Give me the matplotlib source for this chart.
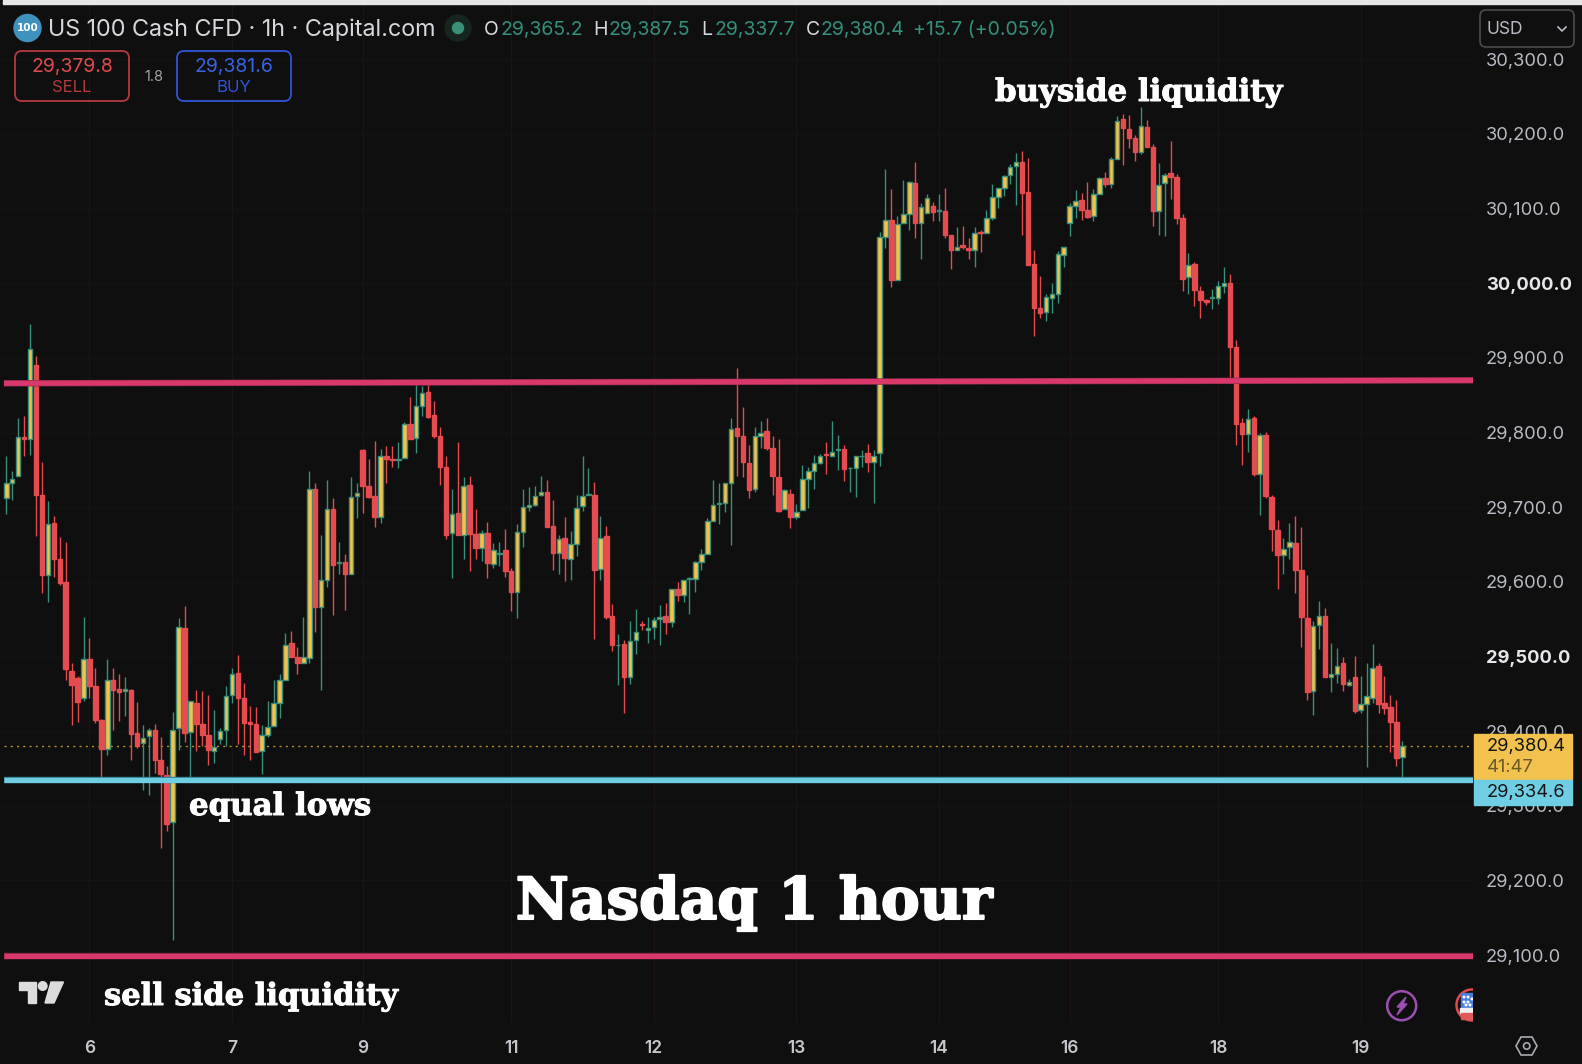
#!/usr/bin/env python3

import matplotlib
matplotlib.use("Agg")
import matplotlib.patheffects as pe
import matplotlib.pyplot as plt
from matplotlib.patches import Circle, FancyBboxPatch, Polygon, Rectangle

OUTPUT_PATH = "out.png"

BG = "#0f0f0f"
UP_EDGE = "#3a8f7a"
UP_FILL = "#f2c14e"
DOWN = "#e54b4f"
PINK = "#d8386a"
CYAN = "#6fcde4"
AXIS_TEXT = "#b8bbc2"

opens = [29713, 29732, 29742, 29794, 29792, 29891, 29716, 29609, 29679, 29631, 29600, 29481,
         29471, 29444, 29497, 29460, 29415, 29376, 29469, 29456, 29454, 29455, 29397, 29384,
         29393, 29402, 29362, 29341, 29278, 29404, 29538, 29399, 29438, 29409, 29395, 29374,
         29389, 29402, 29448, 29478, 29445, 29412, 29409, 29374, 29395, 29407, 29438, 29469,
         29518, 29500, 29492, 29498, 29724, 29567, 29603, 29697, 29625, 29627, 29611, 29715,
         29777, 29728, 29715, 29687, 29768, 29765, 29763, 29766, 29812, 29793, 29835, 29854,
         29823, 29796, 29754, 29665, 29692, 29663, 29730, 29664, 29645, 29666, 29624, 29637,
         29643, 29615, 29587, 29667, 29700, 29703, 29716, 29721, 29675, 29639, 29659, 29631,
         29651, 29702, 29716, 29716, 29617, 29662, 29554, 29515, 29517, 29473, 29522, 29544,
         29536, 29540, 29550, 29554, 29546, 29590, 29583, 29604, 29604, 29627, 29638, 29682,
         29704, 29706, 29733, 29806, 29795, 29759, 29724, 29796, 29802, 29780, 29741, 29698,
         29718, 29687, 29696, 29738, 29748, 29759, 29771, 29769, 29776, 29778, 29752, 29753,
         29768, 29772, 29760, 29772, 30062, 30085, 30005, 30081, 30093, 30134, 30081, 30094,
         30104, 30097, 30097, 30064, 30045, 30051, 30047, 30044, 30069, 30067, 30088, 30116,
         30127, 30145, 30157, 30162, 30122, 30026, 29967, 29961, 29980, 29986, 30038, 30081,
         30103, 30112, 30098, 30090, 30120, 30141, 30133, 30167, 30220, 30207, 30194, 30176,
         30210, 30182, 30097, 30134, 30148, 30142, 30088, 30008, 30026, 29990, 29978, 29980,
         29980, 29996, 30001, 29914, 29813, 29798, 29819, 29745, 29797, 29714, 29670, 29636,
         29647, 29652, 29616, 29551, 29454, 29542, 29554, 29472, 29476, 29491, 29462, 29473,
         29428, 29436, 29444, 29487, 29438, 29432, 29412, 29365.2]
highs = [29769, 29748, 29819, 29822, 29946, 29902, 29760, 29709, 29688, 29660, 29653, 29491,
         29474, 29553, 29525, 29485, 29416, 29497, 29485, 29477, 29473, 29457, 29439, 29408,
         29404, 29410, 29392, 29353, 29426, 29552, 29568, 29441, 29455, 29454, 29448, 29428,
         29404, 29461, 29484, 29502, 29465, 29434, 29433, 29408, 29441, 29468, 29477, 29532,
         29534, 29513, 29553, 29748, 29732, 29663, 29737, 29713, 29653, 29638, 29740, 29732,
         29778, 29764, 29789, 29778, 29782, 29782, 29788, 29814, 29847, 29868, 29863, 29868,
         29842, 29808, 29769, 29724, 29787, 29740, 29742, 29697, 29669, 29680, 29652, 29653,
         29671, 29618, 29678, 29724, 29727, 29728, 29742, 29736, 29710, 29663, 29687, 29668,
         29716, 29769, 29753, 29734, 29688, 29675, 29571, 29530, 29522, 29547, 29564, 29547,
         29553, 29553, 29569, 29572, 29590, 29600, 29603, 29607, 29628, 29644, 29686, 29737,
         29732, 29733, 29820, 29887, 29834, 29783, 29807, 29815, 29819, 29796, 29792, 29724,
         29724, 29704, 29756, 29754, 29770, 29771, 29787, 29815, 29797, 29783, 29754, 29769,
         29777, 29785, 29777, 30069, 30153, 30126, 30090, 30138, 30137, 30163, 30107, 30120,
         30109, 30119, 30127, 30065, 30076, 30077, 30061, 30076, 30071, 30098, 30133, 30128,
         30145, 30160, 30174, 30177, 30168, 30044, 30010, 29985, 30001, 30043, 30048, 30108,
         30125, 30121, 30135, 30126, 30142, 30149, 30169, 30224, 30227, 30225, 30199, 30236,
         30219, 30186, 30161, 30148, 30190, 30146, 30093, 30041, 30029, 29997, 29979, 29992,
         30003, 30022, 30012, 29924, 29820, 29832, 29822, 29799, 29801, 29716, 29683, 29659,
         29679, 29688, 29673, 29609, 29547, 29574, 29565, 29518, 29511, 29500, 29470, 29501,
         29474, 29492, 29517, 29491, 29474, 29449, 29442, 29387.5]
lows = [29691, 29710, 29742, 29768, 29770, 29662, 29585, 29573, 29607, 29596, 29469, 29408,
        29412, 29440, 29444, 29411, 29332, 29368, 29401, 29414, 29420, 29362, 29378, 29321,
        29314, 29344, 29243, 29266, 29120, 29375, 29385, 29333, 29374, 29380, 29355, 29357,
        29383, 29380, 29438, 29383, 29368, 29362, 29372, 29343, 29392, 29407, 29417, 29469,
        29500, 29476, 29492, 29491, 29533, 29455, 29593, 29556, 29610, 29563, 29610, 29686,
        29692, 29712, 29674, 29679, 29733, 29754, 29752, 29766, 29792, 29772, 29822, 29820,
        29793, 29730, 29657, 29605, 29663, 29630, 29615, 29631, 29628, 29605, 29619, 29621,
        29607, 29561, 29552, 29647, 29695, 29701, 29715, 29673, 29616, 29611, 29601, 29602,
        29635, 29695, 29716, 29524, 29602, 29550, 29507, 29462, 29424, 29463, 29503, 29536,
        29518, 29523, 29516, 29530, 29540, 29574, 29573, 29557, 29587, 29616, 29638, 29682,
        29678, 29694, 29649, 29742, 29740, 29712, 29721, 29780, 29777, 29716, 29694, 29697,
        29672, 29684, 29696, 29699, 29724, 29758, 29744, 29768, 29750, 29735, 29720, 29714,
        29754, 29747, 29705, 29755, 30047, 29995, 30004, 30081, 30072, 30061, 30033, 30094,
        30083, 30084, 30060, 30019, 30044, 30046, 30032, 30022, 30042, 30067, 30085, 30101,
        30117, 30133, 30105, 30065, 30025, 29929, 29953, 29949, 29960, 29974, 30022, 30063,
        30087, 30085, 30087, 30084, 30119, 30129, 30127, 30166, 30158, 30181, 30164, 30173,
        30183, 30077, 30064, 30063, 30113, 30080, 29990, 29986, 29969, 29953, 29971, 29965,
        29972, 29987, 29875, 29783, 29757, 29774, 29742, 29690, 29713, 29641, 29591, 29610,
        29631, 29585, 29513, 29442, 29422, 29510, 29472, 29453, 29465, 29454, 29461, 29424,
        29425, 29352, 29438, 29424, 29423, 29372, 29354, 29337.7]
closes = [29732, 29738, 29794, 29792, 29912, 29717, 29609, 29678, 29631, 29599, 29483, 29462,
          29439, 29497, 29460, 29415, 29376, 29469, 29455, 29452, 29456, 29396, 29380, 29391,
          29402, 29361, 29342, 29276, 29402, 29539, 29397, 29440, 29409, 29395, 29375, 29379,
          29400, 29447, 29477, 29445, 29411, 29409, 29372, 29395, 29406, 29438, 29468, 29516,
          29500, 29492, 29499, 29724, 29566, 29603, 29697, 29623, 29626, 29610, 29714, 29719,
          29728, 29714, 29687, 29768, 29764, 29763, 29765, 29812, 29792, 29835, 29853, 29821,
          29796, 29754, 29663, 29691, 29663, 29729, 29664, 29645, 29666, 29625, 29643, 29639,
          29615, 29587, 29667, 29700, 29703, 29715, 29721, 29674, 29639, 29658, 29632, 29651,
          29699, 29715, 29718, 29616, 29659, 29553, 29515, 29516, 29473, 29521, 29533, 29542,
          29538, 29549, 29553, 29546, 29590, 29583, 29602, 29605, 29627, 29638, 29681, 29703,
          29706, 29732, 29805, 29795, 29760, 29723, 29795, 29800, 29780, 29742, 29695, 29723,
          29687, 29694, 29738, 29748, 29759, 29769, 29770, 29774, 29778, 29751, 29753, 29768,
          29769, 29760, 29769, 30062, 30085, 30004, 30080, 30093, 30136, 30081, 30102, 30114,
          30096, 30098, 30065, 30045, 30049, 30049, 30044, 30068, 30067, 30088, 30115, 30127,
          30144, 30156, 30162, 30121, 30025, 29967, 29960, 29981, 29986, 30039, 30048, 30103,
          30110, 30098, 30089, 30119, 30141, 30133, 30167, 30218, 30208, 30194, 30176, 30211,
          30183, 30097, 30131, 30145, 30143, 30088, 30006, 30025, 29991, 29977, 29975, 29982,
          29997, 30000, 29914, 29812, 29798, 29818, 29745, 29797, 29715, 29671, 29636, 29644,
          29653, 29616, 29553, 29453, 29541, 29554, 29472, 29476, 29487, 29463, 29466, 29427,
          29436, 29447, 29484, 29437, 29431, 29412, 29364, 29380.4]

price_ticks = [30300, 30200, 30100, 30000, 29900, 29800, 29700, 29600, 29500, 29400, 29300, 29200, 29100]
strong_ticks = [30000, 29500]
day_positions = [14, 38, 60, 85, 109, 133, 157, 179, 204, 228]
day_labels = ["6", "7", "9", "11", "12", "13", "14", "16", "18", "19"]

resistance_ends = [29866, 29870]
equal_lows_level = 29334.6
sell_side_level = 29099
sell_quote = "29,379.8"
buy_quote = "29,381.6"
ohlc_labels = ["O", "H", "L", "C"]
ohlc_values = ["29,365.2", "29,387.5", "29,337.7", "29,380.4"]


def line_with_edge(ax, xs, ys, color, edge):
    ax.plot(xs, ys, color=edge, linewidth=4.6, solid_capstyle="butt", zorder=5)
    ax.plot(xs, ys, color=color, linewidth=3.7, solid_capstyle="butt", zorder=5)


def draw_candles(ax):
    indices = range(len(closes))
    up = [c >= o for o, c in zip(opens, closes)]
    wick_colors = [UP_EDGE if u else DOWN for u in up]
    ax.vlines(indices, lows, highs, colors=wick_colors, linewidth=1.0, zorder=3)
    bottoms = [min(o, c) for o, c in zip(opens, closes)]
    heights = [abs(c - o) for o, c in zip(opens, closes)]
    ax.bar(
        indices,
        heights,
        bottom=bottoms,
        width=0.76,
        color=[UP_FILL if u else DOWN for u in up],
        edgecolor=[UP_EDGE if u else DOWN for u in up],
        linewidth=1.0,
        zorder=4,
    )


def draw_chrome(ui):
    # px coordinates, y pointing down
    ui.add_patch(Rectangle((3, 0), 1579, 3.5, color="#e6e6e6"))

    ui.add_patch(Circle((27.5, 28), 13.5, color="#3f92bd"))
    ui.text(27.5, 28, "100", color="white", fontsize=7.5, fontweight="bold", ha="center", va="center")
    ui.text(48, 29.5, "US 100 Cash CFD · 1h · Capital.com", color="#d6d8dd", fontsize=16.8,
            family="Inter", va="center")
    ui.add_patch(Circle((458, 28), 13, color="#16261f"))
    ui.add_patch(Circle((458, 28), 5.5, color="#3a8f78"))

    label_x = [484, 593, 701, 806]
    value_x = [501, 608, 714, 821]
    for lab, val, lx, vx in zip(ohlc_labels, ohlc_values, label_x, value_x):
        ui.text(lx, 30, lab, color="#d6d8dd", fontsize=14, family="Inter", va="center")
        ui.text(vx, 30, val, color="#34907c", fontsize=14, family="Inter", va="center")
    ui.text(913, 30, "+15.7 (+0.05%)", color="#34907c", fontsize=14, family="Inter", va="center")

    ui.add_patch(FancyBboxPatch((15, 51), 114, 50, boxstyle="round,pad=0,rounding_size=7",
                                fc="none", ec="#b53a3e", lw=1.3))
    ui.text(72, 67, sell_quote, color="#df4a4e", fontsize=14, family="Inter", ha="center", va="center")
    ui.text(72, 88, "SELL", color="#b53a3e", fontsize=12, family="Inter", ha="center", va="center")
    ui.text(153.5, 77, "1.8", color="#a0a3a8", fontsize=10.5, family="Inter", ha="center", va="center")
    ui.add_patch(FancyBboxPatch((177, 51), 114, 50, boxstyle="round,pad=0,rounding_size=7",
                                fc="none", ec="#2f55d4", lw=1.3))
    ui.text(234, 67, buy_quote, color="#3a63e0", fontsize=14, family="Inter", ha="center", va="center")
    ui.text(234, 88, "BUY", color="#2f55d4", fontsize=12, family="Inter", ha="center", va="center")

    ui.add_patch(FancyBboxPatch((1480, 10), 94, 37, boxstyle="round,pad=0,rounding_size=6",
                                fc=BG, ec="#4a4c50", lw=1.2))
    ui.text(1487, 29, "USD", color="#b8bbc2", fontsize=12.5, family="Inter", va="center")
    ui.plot([1558, 1562, 1566], [27, 31, 27], color="#b8bbc2", lw=1.2)

    # right scale badges
    ui.add_patch(Rectangle((1474, 734), 98, 46, color=UP_FILL, zorder=6))
    ui.add_patch(Rectangle((1474, 780), 98, 25, color=CYAN, zorder=6))
    ui.text(1487, 747, "29,380.4", color="#151515", fontsize=13.2, family="Inter", va="center", zorder=7)
    ui.text(1487, 767, "41:47", color="#6a5a28", fontsize=13.2, family="Inter", va="center", zorder=7)
    ui.text(1487, 793, "29,334.6", color="#151515", fontsize=13.2, family="Inter", va="center", zorder=7)

    # tradingview logo
    logo = "#dcdcdc"
    ui.add_patch(Polygon([(19, 982), (36, 982), (36, 1003), (28, 1003), (28, 990), (19, 990)], color=logo))
    ui.add_patch(Circle((42.7, 986), 4.3, color=logo))
    ui.add_patch(Polygon([(51, 982), (63.5, 982), (54, 1003), (45, 1003)], color=logo))

    # bolt button
    ui.add_patch(Circle((1401.7, 1005.7), 14.5, fc="none", ec="#9c4fb0", lw=1.8))
    ui.add_patch(Polygon([(1406, 997), (1397, 1007), (1401, 1007), (1397, 1015), (1407, 1004), (1403, 1004)],
                         color="#9c4fb0"))

    # flag button, cut by the end of the pane
    clip = Rectangle((1450, 985), 23, 40, transform=ui.transData)
    parts = [
        Circle((1472, 1005), 15.5, fc=BG, ec="#e04b4b", lw=1.8),
        Rectangle((1461, 993), 12, 15, color="#4a7de0"),
        Rectangle((1460, 1008), 13, 5, color="#f0f0f0"),
        Rectangle((1461, 1013), 12, 6, color="#e05a5a"),
    ]
    for dot_x, dot_y in [(1464, 997), (1468, 997), (1464, 1002), (1468, 1002), (1472, 999), (1466, 1005), (1470, 1005)]:
        parts.append(Circle((dot_x, dot_y), 0.8, color="white"))
    for part in parts:
        ui.add_patch(part)
        part.set_clip_path(clip)

    # settings hexagon
    ui.add_patch(Polygon([(1516, 1046), (1521, 1037), (1532, 1037), (1537, 1046), (1532, 1055), (1521, 1055)],
                         fc="none", ec="#a8abb0", lw=1.2))
    ui.add_patch(Circle((1526.7, 1046), 3.2, fc="none", ec="#a8abb0", lw=1.2))

    serif = {"family": "DejaVu Serif", "fontweight": "bold", "color": "white", "va": "baseline"}
    heavy = [pe.withStroke(linewidth=0.7, foreground="white")]
    heavy_big = [pe.withStroke(linewidth=1.5, foreground="white")]
    ui.text(995, 101, "buyside liquidity", fontsize=22.2, path_effects=heavy, **serif)
    ui.text(189, 815, "equal lows", fontsize=22.2, path_effects=heavy, **serif)
    ui.text(104, 1005, "sell side liquidity", fontsize=22, path_effects=heavy, **serif)
    ui.text(754, 919, "Nasdaq 1 hour", fontsize=41.8, ha="center", path_effects=heavy_big, **serif)


def main() -> None:
    fig = plt.figure(figsize=(15.82, 10.64), dpi=100, facecolor=BG)

    # pane spans px x 0-1473, y 4-1023
    ax = fig.add_axes([0, (1064 - 1023) / 1064, 1473 / 1582, 1019 / 1064], facecolor=BG)
    ax.set_xlim(-1.06, 246.9)
    ax.set_ylim(29009.1, 30374.1)

    for x in day_positions:
        ax.axvline(x, color="#1d1416", linewidth=0.9, zorder=1)
    for y in price_ticks:
        ax.axhline(y, color="#141414", linewidth=0.9, zorder=1)

    draw_candles(ax)

    start, end = -0.4, 247.0
    line_with_edge(ax, [start, end], resistance_ends, PINK, "#8a2a4c")
    line_with_edge(ax, [start, end], [equal_lows_level, equal_lows_level], CYAN, "#3a8296")
    line_with_edge(ax, [start, end], [sell_side_level, sell_side_level], PINK, "#8a2a4c")
    ax.plot([start, end], [closes[-1], closes[-1]], color="#b98f2f", linewidth=1.0,
            linestyle=(0, (1.5, 3)), zorder=2)

    ax.yaxis.tick_right()
    ax.set_yticks(price_ticks)
    ax.set_yticklabels([f"{p:,.1f}" for p in price_ticks])
    ax.set_xticks(day_positions)
    ax.set_xticklabels(day_labels)
    ax.tick_params(axis="y", length=0, pad=9.2, labelsize=13.2, labelcolor=AXIS_TEXT)
    ax.tick_params(axis="x", length=0, pad=12, labelsize=12.5, labelcolor="#c4c6cb")
    for label in ax.get_yticklabels():
        label.set_family("Inter")
        if int(label.get_text().replace(",", "").split(".")[0]) in strong_ticks:
            label.set_fontweight("bold")
            label.set_color("#e6e7ea")
    for label in ax.get_xticklabels():
        label.set_family("Inter")
        label.set_fontweight("semibold")
    for spine in ax.spines.values():
        spine.set_visible(False)

    ui = fig.add_axes([0, 0, 1, 1])
    ui.set_xlim(0, 1582)
    ui.set_ylim(1064, 0)
    ui.axis("off")
    draw_chrome(ui)

    fig.savefig(OUTPUT_PATH, dpi=100, facecolor=BG)
    plt.close(fig)


if __name__ == "__main__":
    main()
